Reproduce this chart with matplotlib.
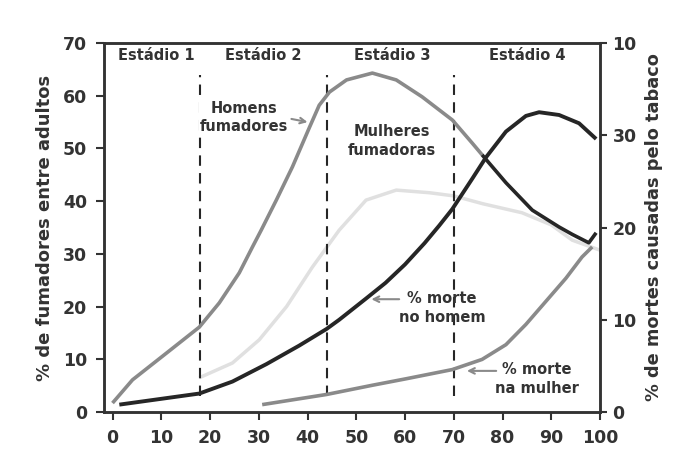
import matplotlib.pyplot as plt
import numpy as np

# ---- data ----
# smokers (% of adults, left axis)
men_smk_x = [0, 4.1, 11.1, 17.8, 21.9, 26.0, 28.7, 30.5, 33.6, 36.9, 40.4, 42.4, 44.5, 48.0,
             53.3, 58.2, 63.5, 69.7, 73.8, 75.8, 80.7, 86.1, 91.6, 94.3, 97.7, 99.2]
men_smk_y = [1.7, 6.1, 11.2, 16.1, 20.7, 26.4, 31.3, 34.5, 40.2, 46.5, 54.0, 58.2, 60.7, 63.0,
             64.3, 63.0, 59.8, 55.4, 51.0, 48.8, 43.5, 38.3, 35.1, 33.7, 32.1, 34.0]
women_smk_x = [17.8, 24.6, 30.1, 35.7, 41, 46.5, 52, 58.2, 65, 70, 76, 84, 90, 94.3, 100]
women_smk_y = [6.5, 9.3, 13.7, 20, 27.5, 34.5, 40.2, 42.1, 41.6, 41, 39.5, 37.8, 35.5, 32.6, 30.7]

# deaths caused by tobacco (% of deaths, right axis)
men_death_x = [1.4, 17.8, 24.6, 31.6, 38.3, 43.9, 46.5, 52.0, 56.0, 60.0, 64.0, 67.0, 69.7,
               73.8, 76.6, 80.7, 84.8, 87.5, 91.6, 95.7, 99.2]
men_death_y = [0.8, 2.0, 3.3, 5.2, 7.2, 9.0, 10.0, 12.3, 14.0, 16.0, 18.3, 20.2, 22.0,
               25.3, 27.6, 30.4, 32.1, 32.5, 32.2, 31.3, 29.6]
women_death_x = [30.7, 43.9, 53.3, 60.2, 69.7, 75.8, 80.7, 84.8, 88.9, 93, 96.3, 98.4]
women_death_y = [0.8, 1.9, 2.9, 3.6, 4.6, 5.7, 7.3, 9.5, 12.0, 14.5, 16.8, 17.9]

stage_bounds = [18, 44, 70]
stage_names = ["Estádio 1", "Estádio 2", "Estádio 3", "Estádio 4"]
stage_pos = [9, 31, 57.4, 85]

x_ticks = [0, 10, 20, 30, 40, 50, 60, 70, 80, 90, 100]
left_ticks = [0, 10, 20, 30, 40, 50, 60, 70]
right_ticks = [0, 10, 20, 30, 40]
right_labels = ["0", "10", "20", "30", "10"]

GRAY = "#8a8a8a"
LIGHT = "#e0e0e0"
DARK = "#262626"
TXT = "#333333"

plt.rcParams['font.family'] = ['DejaVu Sans']

fig = plt.figure(figsize=(6.78, 4.53), dpi=100)
ax = fig.add_axes([0.153, 0.0905, 0.732, 0.8145])
ax2 = ax.twinx()

ax.set_xlim(-1.8, 100)
ax.set_ylim(0, 70)
ax2.set_ylim(0, 40)

line_kw = dict(solid_joinstyle='round', solid_capstyle='butt')

# faint women smokers curve
ax.plot(women_smk_x, women_smk_y, color=LIGHT, lw=2.5, zorder=1, **line_kw)

# men smokers: gray until the crossing, dark afterwards (as printed)
split = men_smk_x.index(75.8)
ax.plot(men_smk_x[:split + 1], men_smk_y[:split + 1], color=GRAY, lw=2.6, zorder=3, **line_kw)
ax.plot(men_smk_x[split:], men_smk_y[split:], color=DARK, lw=2.6, zorder=3, **line_kw)

ax2.plot(men_death_x, men_death_y, color=DARK, lw=2.8, zorder=3, **line_kw)
ax2.plot(women_death_x, women_death_y, color=GRAY, lw=2.6, zorder=3, **line_kw)

# stage separators
for b in stage_bounds:
    ax.plot([b, b], [3, 64], color=DARK, lw=1.5, ls=(0, (5, 3.5)), zorder=2)
for name, p in zip(stage_names, stage_pos):
    ax.text(p, 67.7, name, ha='center', va='center', fontsize=10.5, fontweight='bold', color=TXT)

# labels with arrows
lab = dict(ha='center', va='center', fontsize=10.5, fontweight='bold', color=TXT, linespacing=1.3)
arr = dict(arrowstyle='->', color=GRAY, lw=1.5, shrinkA=0, shrinkB=0)
ax.text(27.0, 55.9, "Homens\nfumadores", zorder=4,
        bbox=dict(fc='white', ec='none', pad=0.5), **lab)
ax.annotate("", xy=(40, 55), xytext=(36.7, 55.6), arrowprops=arr)
ax.text(57.4, 51.4, "Mulheres\nfumadoras", **lab)
ax.text(67.6, 19.7, "% morte\nno homem", **lab)
ax.annotate("", xy=(53.1, 21.4), xytext=(58.8, 21.4), arrowprops=arr)
ax.text(87.1, 6.3, "% morte\nna mulher", **lab)
ax.annotate("", xy=(72.7, 7.8), xytext=(78.7, 7.8), arrowprops=arr)

# axes styling
for a in (ax, ax2):
    for s in a.spines.values():
        s.set_color(TXT)
        s.set_linewidth(1.8)
ax.set_xticks(x_ticks)
ax.set_yticks(left_ticks)
ax2.set_yticks(right_ticks)
ax2.set_yticklabels(right_labels)
ax.tick_params(axis='both', direction='out', length=6, width=1.5, color=TXT,
               labelsize=12.5, labelcolor=TXT, pad=6)
ax2.tick_params(axis='y', direction='out', length=5, width=1.5, color=TXT,
                labelsize=12.5, labelcolor=TXT, pad=4)
for t in ax.get_xticklabels() + ax.get_yticklabels() + ax2.get_yticklabels():
    t.set_fontweight('bold')

ax.set_ylabel("% de fumadores entre adultos", fontsize=13, fontweight='bold', color=TXT, labelpad=6)
ax2.set_ylabel("% de mortes causadas pelo tabaco", fontsize=12.8, fontweight='bold', color=TXT, labelpad=6)

fig.savefig("out.png", dpi=100)
